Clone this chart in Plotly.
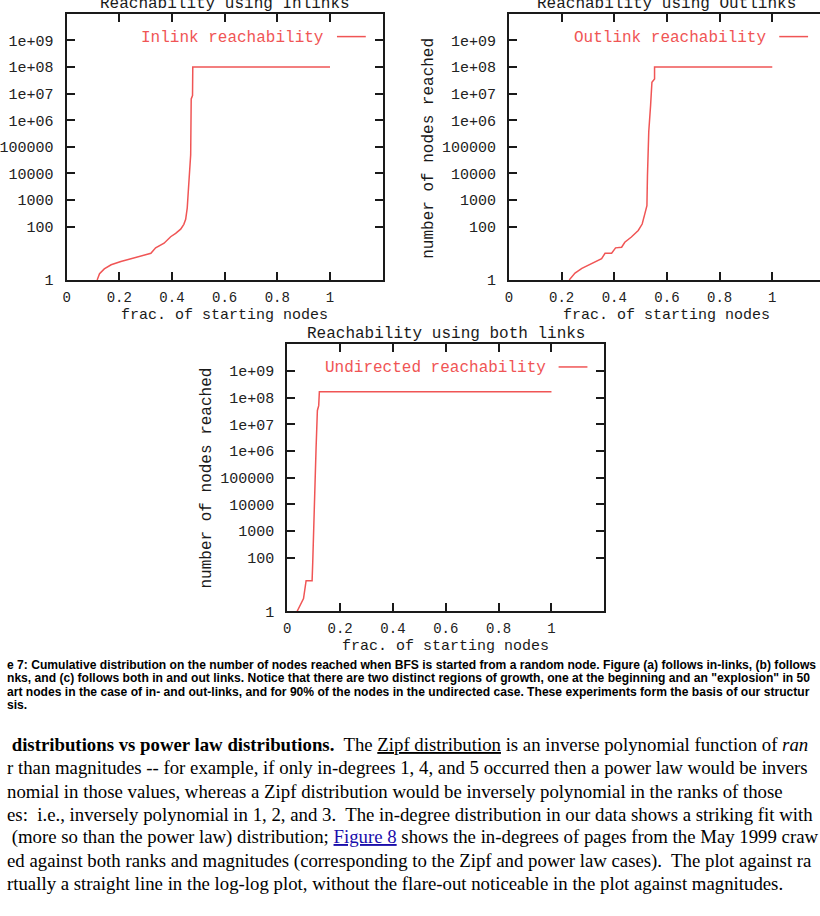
import plotly.graph_objects as go

# ---------------- data ----------------
in_frac = [0.116, 0.125, 0.143, 0.169, 0.206, 0.244, 0.282, 0.320, 0.338, 0.370, 0.395,
           0.414, 0.433, 0.445, 0.452, 0.458, 0.462, 0.471, 0.473, 0.478, 0.479, 1.0]
in_reach = [1, 1.7, 2.6, 3.7, 4.9, 6.2, 7.8, 10, 16, 24, 42,
            56, 81, 123, 190, 513, 2140, 50000, 6.3e6, 8.5e6, 1.0e8, 1.0e8]

out_frac = [0.229, 0.251, 0.277, 0.314, 0.352, 0.365, 0.390, 0.405, 0.428, 0.440, 0.465,
            0.491, 0.506, 0.516, 0.524, 0.526, 0.531, 0.538, 0.543, 0.553, 0.553, 1.0]
out_reach = [1, 1.8, 2.7, 4.2, 6.3, 10, 10, 16, 17, 26, 41,
             72, 126, 302, 617, 7940, 3.8e5, 3.7e6, 2.7e7, 3.6e7, 1.0e8, 1.0e8]

und_frac = [0.0375, 0.0525, 0.0615, 0.0713, 0.094, 0.0964, 0.100, 0.105, 0.109, 0.114,
            0.119, 0.1215, 1.0]
und_reach = [1, 1.9, 3.0, 14, 14, 68, 1780, 4.7e4, 1.26e6, 3.3e7, 5.0e7, 1.66e8, 1.66e8]

x_tick_vals = [0, 0.2, 0.4, 0.6, 0.8, 1]
x_tick_text = ["0", "0.2", "0.4", "0.6", "0.8", "1"]
y_tick_vals = [1, 100, 1000, 10000, 100000, 1e6, 1e7, 1e8, 1e9]
y_tick_text = ["1", "100", "1000", "10000", "100000", "1e+06", "1e+07", "1e+08", "1e+09"]

titles = ["Reachability using Inlinks", "Reachability using Outlinks", "Reachability using both links"]
series_names = ["Inlink reachability", "Outlink reachability", "Undirected reachability"]
x_label = "frac. of starting nodes"
y_label = "number of nodes reached"

caption_lines = [
    "e 7: Cumulative distribution on the number of nodes reached when BFS is started from a random node. Figure (a) follows in-links, (b) follows",
    "nks, and (c) follows both in and out links. Notice that there are two distinct regions of growth, one at the beginning and an \"explosion\" in 50",
    "art nodes in the case of in- and out-links, and for 90% of the nodes in the undirected case. These experiments form the basis of our structur",
    "sis.",
]
body_lines = [
    " <b>distributions vs power law distributions.</b>&nbsp; The <span style=\"text-decoration:underline\">Zipf distribution</span> is an inverse polynomial function of <i>ran</i>",
    "r than magnitudes -- for example, if only in-degrees 1, 4, and 5 occurred then a power law would be invers",
    "nomial in those values, whereas a Zipf distribution would be inversely polynomial in the ranks of those",
    "es:&nbsp; i.e., inversely polynomial in 1, 2, and 3.&nbsp; The in-degree distribution in our data shows a striking fit with",
    " (more so than the power law) distribution; <span style=\"color:#1a0dab;text-decoration:underline\">Figure 8</span> shows the in-degrees of pages from the May 1999 craw",
    "ed against both ranks and magnitudes (corresponding to the Zipf and power law cases).&nbsp; The plot against ra",
    "rtually a straight line in the log-log plot, without the flare-out noticeable in the plot against magnitudes.",
]

# ---------------- layout helpers ----------------
W, H = 820, 916
def PX(x):
    return x / W
def PY(y):
    return 1 - y / H

RED = "#f05555"
MONO = "Liberation Mono, DejaVu Sans Mono, monospace"
INK = "#1a1a1a"

fig = go.Figure()
for i, (xs, ys) in enumerate([(in_frac, in_reach), (out_frac, out_reach), (und_frac, und_reach)]):
    sfx = "" if i == 0 else str(i + 1)
    fig.add_trace(go.Scatter(x=xs, y=ys, mode="lines", name=series_names[i],
                             line=dict(color=RED, width=1.5),
                             xaxis="x" + sfx, yaxis="y" + sfx, showlegend=False))

def xaxis(domain, rng, anchor, mirror="ticks"):
    return dict(domain=domain, range=rng, anchor=anchor, tickvals=x_tick_vals, ticktext=x_tick_text,
                ticks="inside", ticklen=8, tickwidth=1.5, tickcolor=INK,
                showline=True, linewidth=2, linecolor=INK, mirror=mirror,
                showgrid=False, zeroline=False, ticklabelstandoff=3,
                tickfont=dict(family=MONO, size=14, color="#222"))

def yaxis(domain, anchor, mirror="ticks"):
    return dict(domain=domain, type="log", range=[0, 10], anchor=anchor,
                tickvals=y_tick_vals, ticktext=y_tick_text,
                ticks="inside", ticklen=8, tickwidth=1.5, tickcolor=INK,
                showline=True, linewidth=2, linecolor=INK, mirror=mirror,
                showgrid=False, zeroline=False, ticklabelstandoff=8,
                tickfont=dict(family=MONO, size=15, color="#222"))

# plot boxes in pixels (left, right, top, bottom)
boxes = [(62, 380, 14, 283), (507, 825, 14, 283), (284, 603, 348, 618)]

fig.update_layout(
    width=W, height=H, margin=dict(l=0, r=0, t=0, b=0),
    paper_bgcolor="white", plot_bgcolor="white", showlegend=False,
    xaxis=xaxis([PX(62), PX(380)], [0, 1.2], "y"),
    yaxis=yaxis([PY(283), PY(14)], "x"),
    xaxis2=xaxis([PX(507), 1.0], [0, 1.2 * (820 - 507) / (825 - 507)], "y2"),
    yaxis2=yaxis([PY(283), PY(14)], "x2", mirror=False),
    xaxis3=xaxis([PX(284), PX(603)], [0, 1.2], "y3"),
    yaxis3=yaxis([PY(618), PY(348)], "x3"),
    # right-edge tick stubs of the (page-clipped) second panel
    yaxis4=dict(overlaying="y2", anchor="free", position=1.0, side="right", type="log",
                range=[0, 10], tickvals=y_tick_vals, showticklabels=False,
                ticks="inside", ticklen=3, tickwidth=1.5, tickcolor=INK,
                showline=False, showgrid=False, zeroline=False),
)

ann = []
shapes = []
for i, (l, r, t, b) in enumerate(boxes):
    cx = (l + r) / 2
    # title
    ann.append(dict(text=titles[i], x=PX(cx), y=PY(t - 10), xref="paper", yref="paper",
                    xanchor="center", yanchor="middle", showarrow=False,
                    font=dict(family=MONO, size=16, color=INK)))
    # x label
    ann.append(dict(text=x_label, x=PX(cx), y=PY(b + 36), xref="paper", yref="paper",
                    xanchor="center", yanchor="middle", showarrow=False,
                    font=dict(family=MONO, size=15, color=INK)))
    # legend text and sample
    ann.append(dict(text=series_names[i], x=PX(r - 57), y=PY(t + 24), xref="paper", yref="paper",
                    xanchor="right", yanchor="middle", showarrow=False,
                    font=dict(family=MONO, size=16, color=RED)))
    shapes.append(dict(type="line", xref="paper", yref="paper",
                       x0=PX(r - 46), x1=PX(r - 17), y0=PY(t + 23), y1=PY(t + 23),
                       line=dict(color=RED, width=1.5)))

# y labels (subplots 2 and 3; subplot 1's lies off-page)
for (xpix, ypix) in [(427, 150), (203, 483)]:
    ann.append(dict(text=y_label, x=PX(xpix), y=PY(ypix), xref="paper", yref="paper",
                    xanchor="center", yanchor="middle", textangle=-90, showarrow=False,
                    font=dict(family=MONO, size=16, color=INK)))

for k, line in enumerate(caption_lines):
    ann.append(dict(text="<b>" + line + "</b>", x=0, y=PY(672 + k * 13.7), xref="paper", yref="paper",
                    xanchor="left", yanchor="middle", showarrow=False, align="left",
                    font=dict(family="Liberation Sans, Arial, sans-serif", size=12.1, color="black")))

for k, line in enumerate(body_lines):
    ann.append(dict(text=line, x=0, y=PY(753 + k * 23.4), xref="paper", yref="paper",
                    xanchor="left", yanchor="middle", showarrow=False, align="left",
                    font=dict(family="Liberation Serif, Times New Roman, serif", size=18.8, color="black")))

fig.update_layout(annotations=ann, shapes=shapes)
fig.write_html("out.html")
